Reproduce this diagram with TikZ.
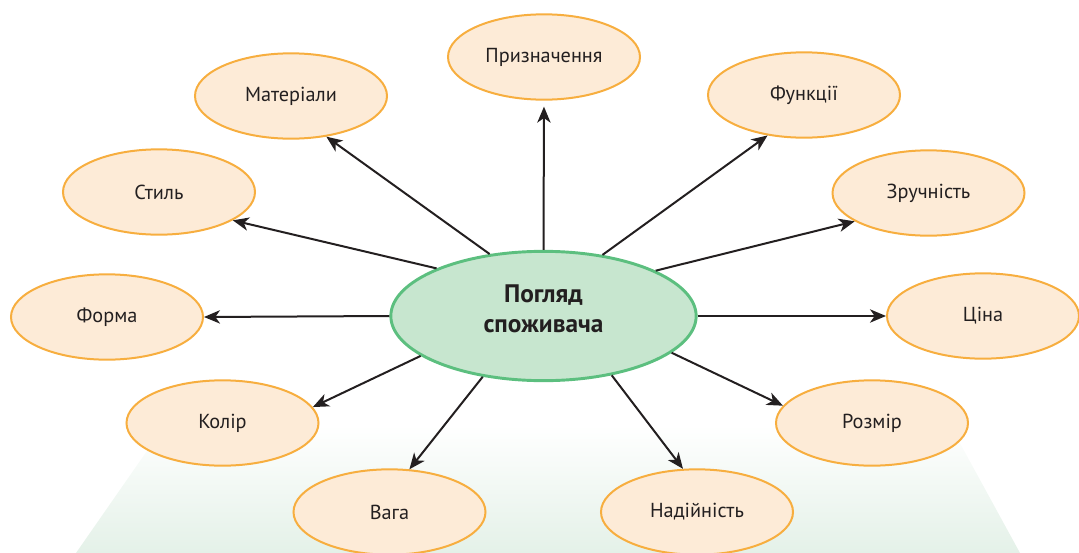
\documentclass[tikz,border=0pt]{standalone}
\usepackage{fontspec}
\setmainfont{PT Sans}
\usetikzlibrary{shapes.geometric,arrows.meta}
\definecolor{ink}{HTML}{231F20}
\definecolor{orl}{HTML}{F7AE3F}
\definecolor{orf}{HTML}{FDEBD7}
\definecolor{grl}{HTML}{5CBF7F}
\definecolor{grf}{HTML}{C7E6CF}
\definecolor{bgg}{HTML}{E4F1E8}
\begin{document}
\begin{tikzpicture}[x=0.75pt,y=-0.75pt,
  item/.style={ellipse, draw=orl, fill=orf, line width=1.5pt,
    minimum width=144pt, minimum height=64pt, inner sep=0pt,
    font=\fontsize{15.2}{17}\selectfont, text=ink},
  hub/.style={ellipse, draw=grl, fill=grf, line width=2.2pt,
    minimum width=229pt, minimum height=97pt, inner sep=0pt, align=center,
    text depth=11pt,
    font=\fontsize{19}{23.5}\selectfont\bfseries, text=ink},
  arr/.style={draw=ink, line width=1.5pt,
    -{Stealth[length=12pt,width=10pt,inset=3.5pt]}}
]
\useasboundingbox (0,0) rectangle (1079,553);
\shade[top color=white, bottom color=bgg]
  (165,425) -- (950,425) -- (1020,553) -- (76,553) -- cycle;

\node[hub] (c) at (543.5,316) {Погляд\\[-1pt]споживача};

\node[item] (pur) at (544,57) {Призначення};
\node[item] (mat) at (291,96) {Матеріали};
\node[item] (fun) at (804,95) {Функції};
\node[item] (sty) at (159,192) {Стиль};
\node[item] (zru) at (928.5,193) {Зручність};
\node[item] (frm) at (107,317) {Форма};
\node[item] (cin) at (983,316) {Ціна};
\node[item] (kol) at (222.5,423) {Колір};
\node[item] (roz) at (872,423) {Розмір};
\node[item] (vag) at (389.5,512) {Вага};
\node[item] (nad) at (697,512) {Надійність};

\draw[arr, shorten >=4.5pt] (c.90) -- (pur.-90);
\draw[arr] (c.131.4) -- (mat.-49.2);
\draw[arr] (c.46.6) -- (fun.-132.3);
\draw[arr] (c.156.7) -- (sty.-21.4);
\draw[arr] (c.22.9) -- (zru.-159.6);
\draw[arr] (c.180) -- (frm.0);
\draw[arr] (c.0) -- (cin.180);
\draw[arr] (c.-162.4) -- (kol.10.1);
\draw[arr] (c.-16.9) -- (roz.169.9);
\draw[arr] (c.-135.3) -- (vag.65.6);
\draw[arr] (c.-41.1) -- (nad.108);
\end{tikzpicture}
\end{document}
